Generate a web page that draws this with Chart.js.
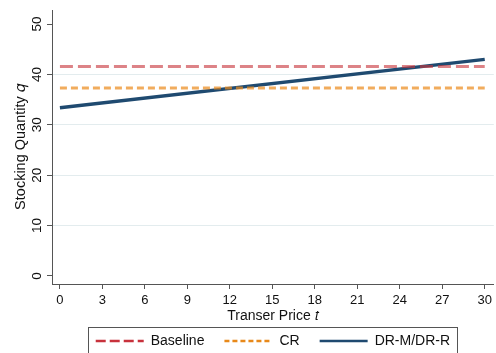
<!DOCTYPE html>
<html>
<head>
<meta charset="utf-8">
<script src="https://cdn.jsdelivr.net/npm/chart.js@4.4.1/dist/chart.umd.min.js"></script>
<style>
  html, body { margin: 0; padding: 0; background: #fff; }
  #wrap { width: 496px; height: 353px; }
</style>
</head>
<body>
<div id="wrap"><canvas id="chart" width="496" height="353"></canvas></div>
<script>
// transfer price t and stocking quantity q
const prices = [0, 30];
const baseline = [41.6, 41.6];
const cr = [37.3, 37.3];
const drmr = [33.4, 43.0];
const xTicks = [0, 3, 6, 9, 12, 15, 18, 21, 24, 27, 30];
const yTicks = [0, 10, 20, 30, 40, 50];

const seriesNames = ['Baseline', 'CR', 'DR-M/DR-R'];
const lineColors = ['rgba(200, 55, 62, 0.62)', 'rgba(235, 140, 30, 0.72)', '#1f4a70'];
const legendColors = ['#c8323c', '#e8891a', '#1f4a70'];
const dashes = [[13, 5], [7, 4], []];
const legendDashes = [[10, 4], [5, 3], []];

const font = "'Liberation Sans', Arial, sans-serif";

function pts(ys) {
    return prices.map((x, i) => ({ x: x, y: ys[i] }));
}

// stata draws a frame round the legend
const legendFrame = {
    id: 'legendFrame',
    afterDraw(chart) {
        const ctx = chart.ctx;
        ctx.save();
        ctx.strokeStyle = '#555';
        ctx.lineWidth = 1;
        ctx.strokeRect(88.5, 327.5, 369, 30);
        ctx.restore();
    }
};

new Chart(document.getElementById('chart'), {
    type: 'line',
    data: {
        datasets: [baseline, cr, drmr].map((d, i) => ({
            label: seriesNames[i],
            data: pts(d),
            borderColor: lineColors[i],
            borderDash: dashes[i],
            borderWidth: i === 2 ? 3.5 : 3,
            pointRadius: 0,
            fill: false,
            tension: 0
        }))
    },
    options: {
        responsive: false,
        animation: false,
        layout: { padding: { left: 0, right: 2, top: 10, bottom: -5 } },
        plugins: {
            tooltip: { enabled: false },
            legend: {
                position: 'bottom',
                fullSize: false,
                labels: {
                    color: '#111',
                    font: { family: font, size: 14 },
                    usePointStyle: true,
                    pointStyle: 'line',
                    pointStyleWidth: 48,
                    padding: 20,
                    generateLabels(chart) {
                        return chart.data.datasets.map((ds, i) => ({
                            text: ds.label,
                            datasetIndex: i,
                            strokeStyle: legendColors[i],
                            fillStyle: legendColors[i],
                            lineWidth: 2.5,
                            lineDash: legendDashes[i],
                            pointStyle: 'line',
                            fontColor: '#111'
                        }));
                    }
                }
            }
        },
        scales: {
            x: {
                type: 'linear',
                min: -0.56,
                max: 30.64,
                afterBuildTicks(scale) {
                    scale.ticks = xTicks.map(v => ({ value: v }));
                },
                afterFit(scale) { scale.height = 30; },
                grid: { drawOnChartArea: false, tickLength: 5, tickColor: '#555' },
                border: { color: '#555', width: 1 },
                ticks: {
                    autoSkip: false,
                    maxRotation: 0,
                    padding: 4,
                    color: '#111',
                    font: { family: font, size: 13 }
                },
                title: {
                    display: true,
                    text: 'Transer Price 𝑡',
                    color: '#111',
                    font: { family: font, size: 14 },
                    padding: { top: 0, bottom: -11 }
                }
            },
            y: {
                type: 'linear',
                min: -1.59,
                max: 52.78,
                afterBuildTicks(scale) {
                    scale.ticks = yTicks.map(v => ({ value: v }));
                },
                afterFit(scale) { scale.width = 52; },
                grid: {
                    tickLength: 5,
                    tickColor: '#555',
                    lineWidth: 1,
                    color(ctx) {
                        const v = ctx.tick && ctx.tick.value;
                        return (v === 0 || v === 50) ? 'rgba(0,0,0,0)' : '#e3ecee';
                    }
                },
                border: { color: '#555', width: 1 },
                ticks: {
                    minRotation: 90,
                    maxRotation: 90,
                    crossAlign: 'center',
                    padding: 2,
                    color: '#111',
                    font: { family: font, size: 13.5 }
                },
                title: {
                    display: true,
                    text: 'Stocking Quantity 𝑞',
                    color: '#111',
                    font: { family: font, size: 14.5 },
                    padding: { top: 12, bottom: 0 }
                }
            }
        }
    },
    plugins: [legendFrame]
});
</script>
</body>
</html>
